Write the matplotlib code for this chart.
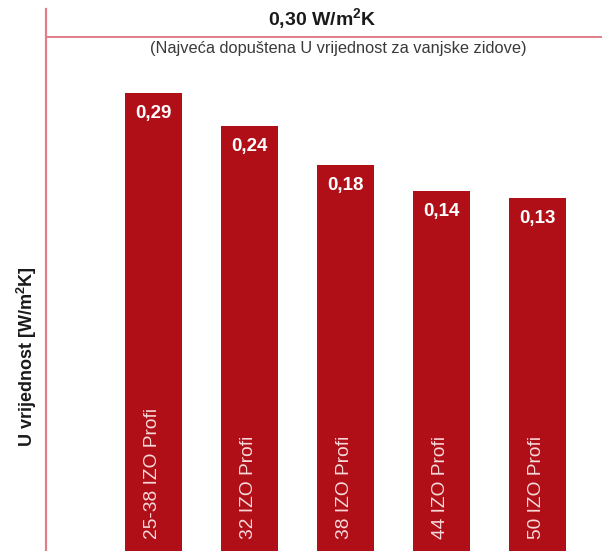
import matplotlib as mpl
import matplotlib.pyplot as plt
from matplotlib.transforms import blended_transform_factory

mpl.rcParams.update({
    "font.family": ["Liberation Sans", "DejaVu Sans"],
    "mathtext.fontset": "custom",
    "mathtext.rm": "Liberation Sans",
    "mathtext.bf": "Liberation Sans:bold",
    "mathtext.default": "bf",
})

# podaci
products = ["25-38 IZO Profi", "32 IZO Profi", "38 IZO Profi", "44 IZO Profi", "50 IZO Profi"]
u_values = [0.29, 0.24, 0.18, 0.14, 0.13]
u_limit = 0.30
limit_note = "(Najveća dopuštena U vrijednost za vanjske zidove)"
y_label = r"U vrijednost [W/m$^2$K]"

BAR = "#B00F17"
LINE = "#E07F89"
BASE = -0.6  # stupci idu ispod donjeg ruba (odrezani kao u originalu)


def fmt(v):
    return f"{v:.2f}".replace(".", ",")


fig = plt.figure(figsize=(6.02, 5.51), dpi=100, facecolor="white")
ax = fig.add_axes([46 / 602, 0, 1 - 46 / 602, 542 / 551])

x = list(range(len(products)))
heights = [v - BASE for v in u_values]
ax.bar(x, heights, bottom=BASE, width=0.595, color=BAR, zorder=2)

ax.set_xlim(-1.12, 4.67)
ax.set_ylim(-0.4085, 0.4177)

for s in ("top", "right", "bottom"):
    ax.spines[s].set_visible(False)
ax.spines["left"].set_color(LINE)
ax.spines["left"].set_linewidth(1.6)
ax.set_xticks([])
ax.set_yticks([])

tr = blended_transform_factory(ax.transData, ax.transAxes)
for xi, v, name in zip(x, u_values, products):
    ax.text(xi, v - 0.0315, fmt(v), ha="center", va="center", color="white",
            fontsize=13.5, fontweight="bold", zorder=3)
    ax.text(xi - 0.01, 0.022, name, transform=tr, rotation=90, ha="center", va="bottom",
            color="#F6DADC", fontsize=13.8, zorder=3)

# linija granične vrijednosti
ax.plot([0, 1], [(551 - 37) / 542] * 2, transform=ax.transAxes, color=LINE,
        lw=1.4, clip_on=False, zorder=1)
fig.text(322 / 602, 1 - 19 / 551, f"{fmt(u_limit)} W/m$^2$K", ha="center", va="center",
         fontsize=14, fontweight="bold", color="#1a1a1a")
fig.text(338 / 602, 1 - 49 / 551, limit_note, ha="center", va="center",
         fontsize=11.8, color="#3a3a3a")

fig.text(27 / 602, 1 - 357 / 551, y_label, rotation=90, ha="center", va="center",
         fontsize=13, fontweight="bold", color="#1a1a1a")

fig.savefig("out.png", dpi=100, facecolor="white")
